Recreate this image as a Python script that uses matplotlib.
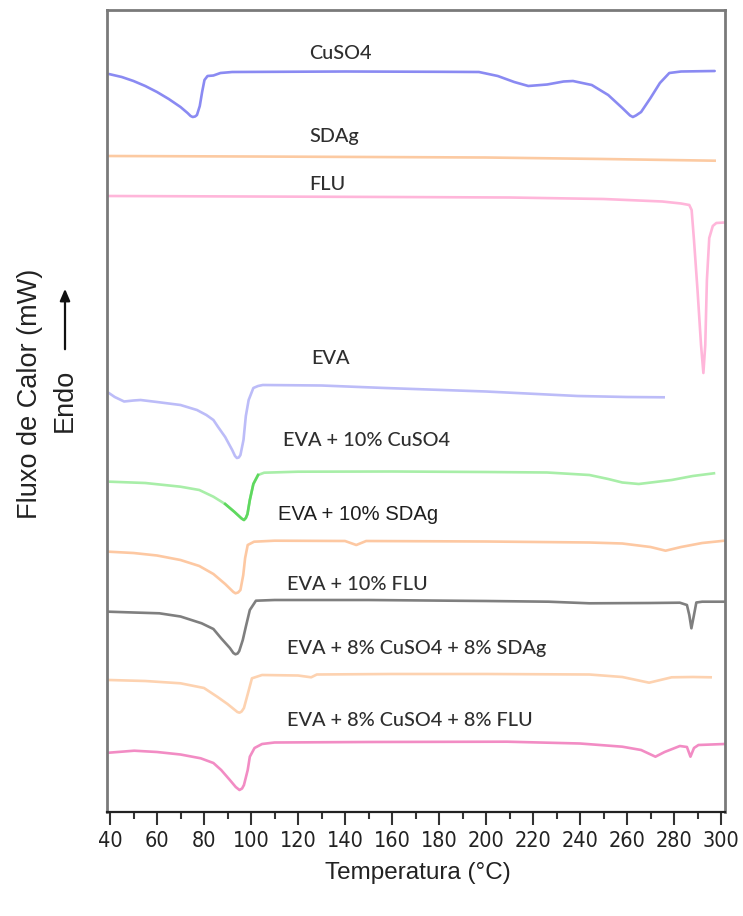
import matplotlib
matplotlib.use("Agg")
import matplotlib.pyplot as plt
from matplotlib.ticker import MultipleLocator
from matplotlib import font_manager as fm

# ---------------- data (temperature in °C, heat flow offset in a.u.) ----------------
cuso4_T = [39.5, 45, 50, 55, 60, 65, 70, 73, 74.3, 75.2, 76.2, 77, 78.2, 79.2, 80.2, 81.5, 84, 87, 92, 140, 180, 197,
           205, 212, 218, 226, 233, 237, 245, 252, 258, 261.3, 262.5, 263.8, 266, 270, 274, 278, 283, 297.3]
cuso4_y = [738, 735, 731, 726, 720, 713, 705, 699, 696, 695, 695.5, 697, 706, 720, 732, 736, 736.5, 739, 740, 740.5,
           740.2, 740, 736, 730, 726, 727.5, 730.5, 731, 727, 717, 704, 696.5, 695, 696.5, 700, 714, 729, 739, 740.5, 741]

sdag_T = [39.5, 100, 150, 200, 250, 297.3]
sdag_y = [656, 655.5, 655, 654.5, 653, 651.3]

flu_T = [39.5, 100, 160, 210, 250, 275, 283, 286.5, 287.5, 288.5, 290, 291.5, 292.5, 293.3, 294, 295, 296.5, 298, 301.5]
flu_y = [616, 615.5, 615, 614.5, 613, 610.5, 608.5, 607, 602, 572, 522, 467, 439, 467, 532, 574, 586, 589, 589.5]

eva_T = [39.5, 42, 46, 50, 53, 60, 70, 77, 81, 84, 86, 89, 92, 93.2, 94, 94.8, 95.5, 96.8, 97.8, 99, 101, 103, 105,
         130, 157, 200, 239, 260, 275.6]
eva_y = [419, 415, 410.5, 411.5, 412, 410, 407, 402, 397, 392, 385, 375, 362, 356, 354, 354.5, 357, 372, 396, 412,
         424, 426, 427, 426.5, 424, 420.5, 416, 415, 414.7]

eva_cu_T = [40, 55, 70, 78, 84, 89, 93, 96, 97, 97.8, 98.5, 99.5, 101, 103, 105.6, 120, 160, 200, 226, 244, 252,
            258, 265, 272, 279, 288, 297]
eva_cu_y = [330.3, 329, 325.3, 322, 315.3, 308, 300, 293.5, 292, 294, 298, 312, 328, 337, 339.3, 340.3, 340.5, 340,
            339.5, 337, 333, 329.5, 328, 330, 332, 336, 338.7]

eva_ag_T = [39.5, 50, 60, 70, 78, 84, 89, 92.5, 93.4, 94.5, 95.5, 96.7, 97.5, 98.6, 101.3, 110, 140, 144.8, 149,
            200, 244, 258, 270, 276.4, 283, 292, 301.5]
eva_ag_y = [260.3, 259, 256.5, 252, 246, 238, 228, 220, 218.7, 219.5, 222, 237, 254, 267, 270.3, 271.3, 271, 267,
            271, 270.5, 269.5, 268.5, 265, 261.3, 265, 269, 271.3]

eva_flu_T = [39.5, 50, 61, 70, 79, 84, 87.3, 91, 92.5, 93.4, 94.3, 95, 96.5, 97.8, 99.5, 102.1, 110, 150, 200,
             226.7, 244, 270, 282.5, 285.5, 286.5, 287.4, 288.5, 289.5, 292, 301.5]
eva_flu_y = [200.3, 199.5, 198.7, 195.5, 188.7, 183, 173.7, 164, 159, 157.7, 158.5, 161, 172, 185.3, 202, 211.3,
             212, 212, 211, 210.3, 208.7, 209, 209.3, 207, 197, 183.7, 197, 209.5, 210.3, 210.3]

eva_cu_ag_T = [39.5, 55, 70, 80, 85.6, 90, 94.2, 95.1, 96, 97, 98.5, 100.4, 104.7, 120, 125.6, 128, 160, 200, 244,
               258, 269.4, 279, 288, 295.6]
eva_cu_ag_y = [132, 131, 128.7, 124, 115.3, 108, 100, 99.3, 100.5, 104, 117, 133.7, 137, 136.5, 134.7, 137.5, 138,
               138, 137.5, 135, 129.3, 134.7, 135, 134.7]

eva_cu_flu_T = [39.5, 46, 50.3, 60, 70, 78.6, 84, 87.3, 91, 93.5, 95.1, 96.2, 97, 98.6, 99.5, 101.5, 104.7, 110, 150,
                209, 240, 258, 266, 272.1, 276, 282.5, 285.5, 287, 288.5, 290.4, 301.5]
eva_cu_flu_y = [59.3, 60.5, 61.3, 60, 57.5, 53.7, 49, 42, 32, 25, 22, 23.5, 27, 42, 55.3, 64, 68, 69.5, 70, 70.3,
                68.5, 65.3, 62, 55.3, 60, 66, 65, 55.3, 64, 67, 68]

labels = ["CuSO4", "SDAg", "FLU", "EVA", "EVA + 10% CuSO4", "EVA + 10% SDAg", "EVA + 10% FLU",
          "EVA + 8% CuSO4 + 8% SDAg", "EVA + 8% CuSO4 + 8% FLU"]
label_T = [124.8, 124.8, 124.8, 125.8, 113.6, 111.5, 115.2, 115.2, 115.2]
label_y = [758.7, 675.3, 627, 453.7, 372, 297, 227, 163.7, 92]

x_ticks = list(range(40, 301, 20))

# ---------------- figure ----------------
W, H = 743, 916
fig = plt.figure(figsize=(W / 100, H / 100), dpi=100)
ax = fig.add_axes([107.3 / W, (H - 812) / H, (725 - 107.3) / W, (812 - 10) / H])

lw = 1.9
ax.plot(cuso4_T, cuso4_y, color="#8a8af2", lw=lw, solid_capstyle="round")
ax.plot(sdag_T, sdag_y, color="#fccaa2", lw=lw)
ax.plot(flu_T, flu_y, color="#ffb6da", lw=lw)
ax.plot(eva_T, eva_y, color="#bcbcf8", lw=lw)
ax.plot(eva_cu_T, eva_cu_y, color="#a8eea8", lw=lw)
# brighter green on the melting dip
dip = [(t, v) for t, v in zip(eva_cu_T, eva_cu_y) if 86 <= t <= 104]
ax.plot([d[0] for d in dip], [d[1] for d in dip], color="#5fd85f", lw=lw)
ax.plot(eva_ag_T, eva_ag_y, color="#fdc8a2", lw=lw)
ax.plot(eva_flu_T, eva_flu_y, color="#7f7f7f", lw=lw)
ax.plot(eva_cu_ag_T, eva_cu_ag_y, color="#fdd2b0", lw=lw)
ax.plot(eva_cu_flu_T, eva_cu_flu_y, color="#f28cc4", lw=lw)

for s, tx, ty in zip(labels, label_T, label_y):
    if s == "EVA + 10% SDAg":
        ax.text(tx, ty, s, ha="left", va="center", fontsize=14.6, color="#1e1e1e",
                family=["Liberation Sans", "DejaVu Sans"])
    else:
        ax.text(tx, ty, s, ha="left", va="center", fontsize=14.3, color="#2e2e2e",
                family=["Lato", "DejaVu Sans"], fontweight="medium")

ax.set_xlim(38.85, 301.7)
ax.set_ylim(0, 802)
ax.set_yticks([])
ax.set_xticks(x_ticks)

names = {f.name for f in fm.fontManager.ttflist}
if "Liberation Sans Narrow" in names:
    tick_fam, tick_stretch = ["Liberation Sans Narrow"], "normal"
elif "DejaVu Sans Condensed" in names:
    tick_fam, tick_stretch = ["DejaVu Sans Condensed"], "normal"
else:
    tick_fam, tick_stretch = ["DejaVu Sans"], "condensed"
ax.set_xticklabels([str(t) for t in x_ticks], family=tick_fam, stretch=tick_stretch,
                   fontsize=15.5, color="#222222")
ax.xaxis.set_minor_locator(MultipleLocator(10))
ax.tick_params(axis="x", which="major", length=9, width=1.5, color="#333333", pad=5)
ax.tick_params(axis="x", which="minor", length=5, width=1.5, color="#333333")

for side in ["left", "top", "right"]:
    ax.spines[side].set_color("#7a7a7a")
    ax.spines[side].set_linewidth(2.0)
ax.spines["bottom"].set_color("#222222")
ax.spines["bottom"].set_linewidth(1.6)

fig.text(418 / W, 1 - 873 / H, "Temperatura (°C)", ha="center", va="center", fontsize=17.5,
         family=["Liberation Sans", "DejaVu Sans"], color="#222222")
fig.text(30 / W, 1 - 394 / H, "Fluxo de Calor (mW)", ha="center", va="center", rotation=90,
         fontsize=19.5, family=["Liberation Sans", "DejaVu Sans"], color="#222222")
fig.text(65 / W, 1 - 400 / H, "Endo", ha="center", va="center", rotation=90,
         fontsize=19.5, family=["Liberation Sans", "DejaVu Sans"], color="#222222")
ax.annotate("", xy=(65 / W, 1 - 286 / H), xytext=(65 / W, 1 - 352 / H),
            xycoords="figure fraction", textcoords="figure fraction",
            arrowprops=dict(arrowstyle="-|>,head_length=0.7,head_width=0.3", color="#111111", lw=1.6))

fig.savefig("out.png", dpi=100)
